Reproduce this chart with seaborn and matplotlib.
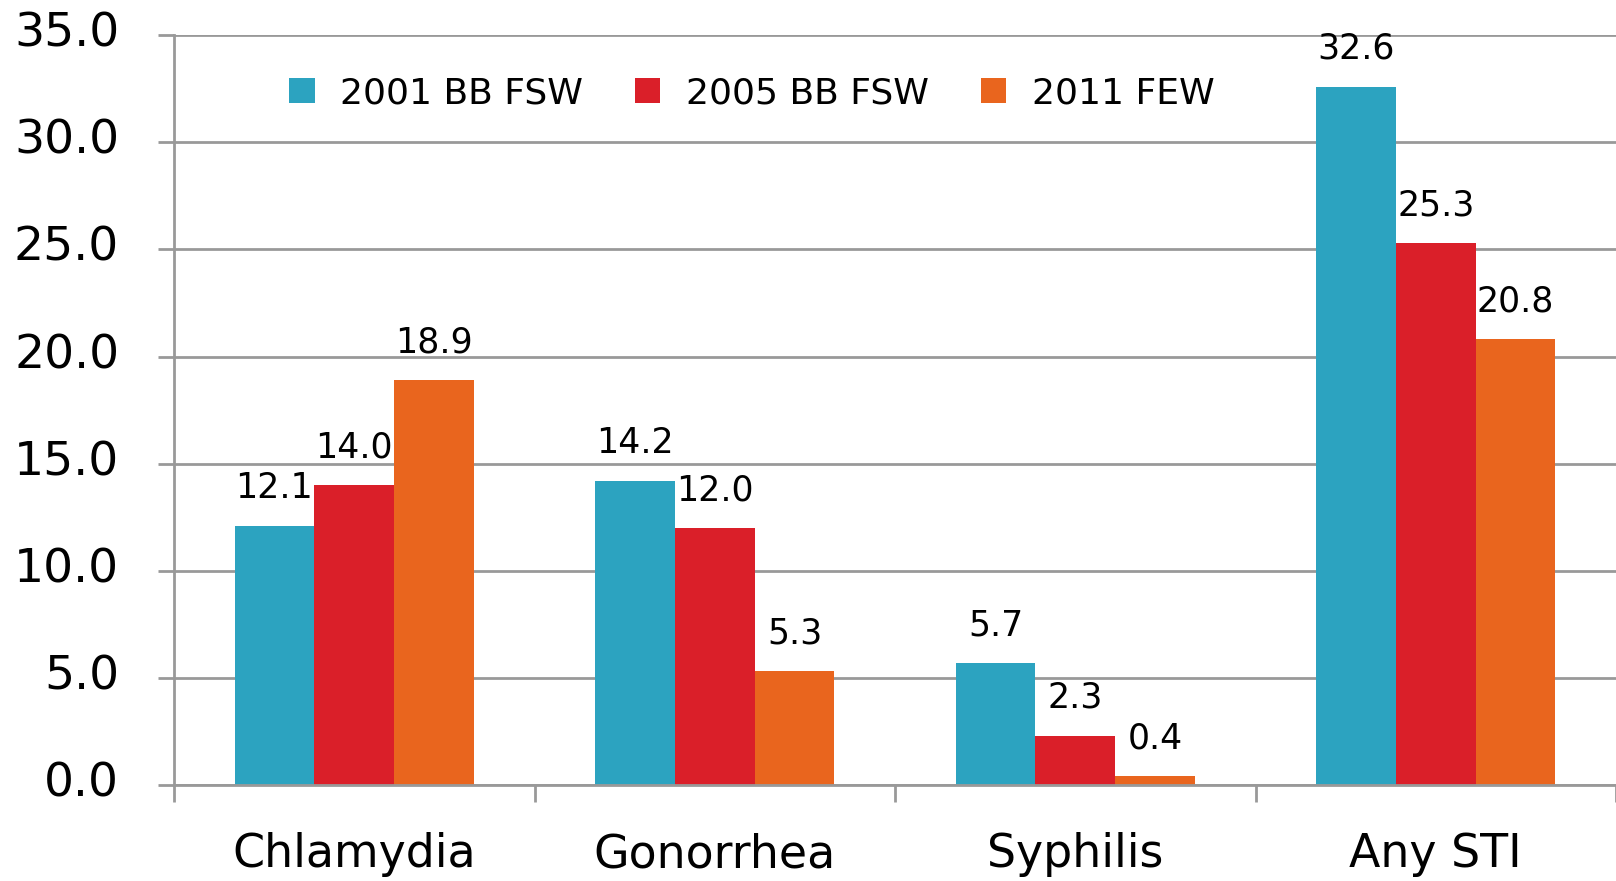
import matplotlib
matplotlib.use("Agg")
import matplotlib.pyplot as plt
import matplotlib.transforms as mtransforms
import seaborn as sns
import pandas as pd

# data
categories = ["Chlamydia", "Gonorrhea", "Syphilis", "Any STI"]
series = ["2001 BB FSW", "2005 BB FSW", "2011 FEW"]
vals_2001 = [12.1, 14.2, 5.7, 32.6]
vals_2005 = [14.0, 12.0, 2.3, 25.3]
vals_2011 = [18.9, 5.3, 0.4, 20.8]
colors = ["#2CA3C0", "#DA1F29", "#E9651E"]
yticks = [0, 5, 10, 15, 20, 25, 30, 35]

df = pd.DataFrame({
    "category": categories * 3,
    "series": [series[0]] * 4 + [series[1]] * 4 + [series[2]] * 4,
    "value": vals_2001 + vals_2005 + vals_2011,
})

sns.set_theme(style="white")
plt.rcParams['font.family'] = ['DejaVu Sans']
plt.rcParams['text.color'] = 'black'

fig = plt.figure(figsize=(16.16, 8.81), dpi=100)
ax = fig.add_axes([0.1077, 0.109, 0.8923, 0.851])

sns.barplot(data=df, x="category", y="value", hue="series", order=categories,
            hue_order=series, palette=colors, width=0.664, gap=0,
            saturation=1, errorbar=None, linewidth=0, ax=ax)

# value labels above bars
for cont in ax.containers:
    ax.bar_label(cont, fmt="%.1f", padding=15, fontsize=25, color="black")

ax.set_ylim(0, 35)
ax.set_xlim(-0.5, 3.5)
ax.set_yticks(yticks)
ax.set_yticklabels([f"{v:.1f}" for v in yticks], fontsize=34)
ax.yaxis.grid(True, color="#999999", linewidth=2)
ax.set_axisbelow(True)
ax.tick_params(axis="y", left=True, length=11.5, width=2, color="#999999",
               pad=28, labelcolor="black")
shift = mtransforms.ScaledTranslation(0, 6 / 100, fig.dpi_scale_trans)
for lab in ax.get_yticklabels():
    lab.set_transform(lab.get_transform() + shift)

# category ticks between groups
ax.set_xticks([-0.5, 0.5, 1.5, 2.5, 3.5], minor=True)
ax.tick_params(axis="x", which="minor", bottom=True, length=12, width=2, color="#999999")
ax.tick_params(axis="x", which="major", bottom=False, length=0, pad=34,
               labelsize=33, labelcolor="black")
ax.set_xlabel("")
ax.set_ylabel("")

for side in ["top", "right"]:
    ax.spines[side].set_visible(False)
for side in ["left", "bottom"]:
    ax.spines[side].set_color("#999999")
    ax.spines[side].set_linewidth(2)

handles, labels = ax.get_legend_handles_labels()
ax.legend(handles, labels, ncol=3, frameon=False, loc="center left",
          bbox_to_anchor=(0.179, 0.894), bbox_transform=fig.transFigure,
          prop={"size": 26}, labelcolor="black",
          handlelength=0.7, handleheight=0.7, handletextpad=0.7,
          columnspacing=1.45, borderaxespad=0, borderpad=0)

fig.savefig("out.png", dpi=100)
